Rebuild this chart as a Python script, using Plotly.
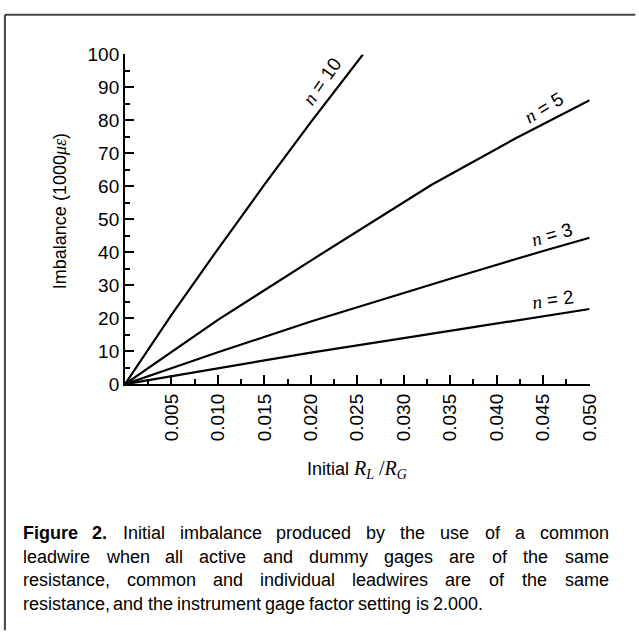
import plotly.graph_objects as go

# ---------------- data ----------------
ratio_n2 = [0, 0.010, 0.020, 0.030, 0.037, 0.045, 0.050]
imb_n2 = [0, 4.9, 9.6, 14.0, 17.0, 20.6, 22.8]

ratio_n3 = [0, 0.010, 0.020, 0.030, 0.035, 0.045, 0.050]
imb_n3 = [0, 9.7, 19.0, 27.8, 32.0, 40.4, 44.4]

ratio_n5 = [0, 0.010, 0.020, 0.033, 0.042, 0.050]
imb_n5 = [0, 19.5, 37.5, 60.5, 74.5, 86.1]

ratio_n10 = [0, 0.005, 0.010, 0.015, 0.020, 0.0256]
imb_n10 = [0, 21.0, 41.0, 60.5, 79.5, 100.0]

x_tick_vals = [0.005, 0.010, 0.015, 0.020, 0.025, 0.030, 0.035, 0.040, 0.045, 0.050]
x_tick_text = ["0.005", "0.010", "0.015", "0.020", "0.025", "0.030", "0.035", "0.040", "0.045", "0.050"]
y_tick_vals = [0, 10, 20, 30, 40, 50, 60, 70, 80, 90, 100]
y_tick_text = ["0", "10", "20", "30", "40", "50", "60", "70", "80", "90", "100"]

series_labels = ["2", "3", "5", "10"]

caption_lines = [
    "Figure 2. Initial imbalance produced by the use of a common",
    "leadwire when all active and dummy gages are of the same",
    "resistance, common and individual leadwires are of the same",
    "resistance, and the instrument gage factor setting is 2.000.",
]

# ---------------- layout helpers ----------------
W, H = 639, 635
PL, PR, PT, PB = 127, 599, 46, 387  # plot area in pixels

SANS = "Liberation Sans, Arial, Helvetica, sans-serif"
SERIF = "Liberation Serif, Times New Roman, Times, serif"


def fx(p):
    return p / W


def fy(p):
    return 1 - p / H


fig = go.Figure()
for xs, ys in [(ratio_n2, imb_n2), (ratio_n3, imb_n3), (ratio_n5, imb_n5), (ratio_n10, imb_n10)]:
    fig.add_trace(go.Scatter(x=xs, y=ys, mode="lines",
                             line=dict(color="black", width=2.2),
                             showlegend=False, hoverinfo="skip"))

tickfont = dict(family=SANS, size=19, color="black")
fig.update_layout(
    width=W, height=H,
    margin=dict(l=0, r=0, t=0, b=0),
    paper_bgcolor="white", plot_bgcolor="white",
    showlegend=False,
    xaxis=dict(domain=[fx(PL), fx(PR)], range=[0, 0.05],
               tickmode="array", tickvals=x_tick_vals, ticktext=x_tick_text,
               tickangle=-90, ticks="inside", ticklen=9, tickwidth=2, tickcolor="black",
               minor=dict(ticks="inside", ticklen=5, tickwidth=2, tickcolor="black",
                          tick0=0, dtick=0.0025, showgrid=False),
               showline=True, linewidth=2, linecolor="black",
               showgrid=False, zeroline=False, tickfont=tickfont, fixedrange=True),
    yaxis=dict(domain=[fy(PB), fy(PT)], range=[0, 100],
               tickmode="array", tickvals=y_tick_vals, ticktext=y_tick_text,
               ticks="inside", ticklen=9, tickwidth=2, tickcolor="black",
               minor=dict(ticks="inside", ticklen=5, tickwidth=2, tickcolor="black",
                          tick0=0, dtick=5, showgrid=False),
               showline=True, linewidth=2, linecolor="black",
               showgrid=False, zeroline=False, tickfont=tickfont, fixedrange=True),
)

annots = []

# series labels along lines
label_pos = [(562, 299, -8), (561, 232, -16), (553, 101, -31), (327, 74, -55)]
for lab, (lx, ly, ang) in zip(series_labels, label_pos):
    annots.append(dict(
        xref="paper", yref="paper", x=fx(lx), y=fy(ly), xanchor="center", yanchor="middle",
        text=f"<span style='font-family:{SERIF}'><i>n</i></span> = {lab}",
        textangle=ang, showarrow=False, font=dict(family=SANS, size=19, color="black")))

# axis titles
annots.append(dict(
    xref="paper", yref="paper", x=fx(61), y=fy(208), xanchor="center", yanchor="middle",
    text=f"Imbalance (1000<span style='font-family:{SERIF}'><i>με</i></span>)",
    textangle=-90, showarrow=False, font=dict(family=SANS, size=18, color="black")))
annots.append(dict(
    xref="paper", yref="paper", x=fx(363), y=fy(475), xanchor="center", yanchor="middle",
    text=(f"Initial <span style='font-family:{SERIF};font-size:20px'><i>R</i><sub><i>L</i></sub> /"
          f"<i>R</i><sub><i>G</i></sub></span>"),
    showarrow=False, font=dict(family=SANS, size=18, color="black")))

# caption, justified, word by word
REG = {' ': 278, ',': 278, '.': 278, 'a': 556, 'b': 556, 'c': 500, 'd': 556, 'e': 556, 'f': 278,
       'g': 556, 'h': 556, 'i': 222, 'j': 222, 'k': 500, 'l': 222, 'm': 833, 'n': 556, 'o': 556,
       'p': 556, 'q': 556, 'r': 333, 's': 500, 't': 278, 'u': 556, 'v': 500, 'w': 722, 'x': 500,
       'y': 500, 'z': 500, 'I': 278, 'F': 611}
for d in "0123456789":
    REG[d] = 556
BOLD = {'F': 611, 'i': 278, 'g': 611, 'u': 611, 'r': 389, 'e': 556, '2': 556, '.': 278, ' ': 278}

CAP_SIZE = 18
CAP_L, CAP_R = 22, 617
cap_y = [541, 565.5, 590, 614.5]


def wwidth(word, bold=False):
    tab = BOLD if bold else REG
    return sum(tab.get(c, 556) for c in word) * CAP_SIZE / 1000.0


for li, (line, yy) in enumerate(zip(caption_lines, cap_y)):
    words = line.split(" ")
    bolds = [li == 0 and i < 2 for i in range(len(words))]
    widths = [wwidth(w, b) for w, b in zip(words, bolds)]
    if li < len(caption_lines) - 1:
        gap = (CAP_R - CAP_L - sum(widths)) / (len(words) - 1)
    else:
        gap = 278 * CAP_SIZE / 1000.0
    xcur = CAP_L
    for w, b, wd in zip(words, bolds, widths):
        annots.append(dict(
            xref="paper", yref="paper", x=fx(xcur), y=fy(yy), xanchor="left", yanchor="middle",
            text=f"<b>{w}</b>" if b else w, showarrow=False, borderpad=0,
            font=dict(family=SANS, size=CAP_SIZE, color="black")))
        xcur += wd + gap

fig.update_layout(annotations=annots)

# outer frame (top and left edges visible)
fig.add_shape(type="line", xref="paper", yref="paper", x0=fx(5), x1=1.01, y0=fy(5), y1=fy(5),
              line=dict(color="#444444", width=2))
fig.add_shape(type="line", xref="paper", yref="paper", x0=fx(5), x1=fx(5), y0=fy(5), y1=-0.01,
              line=dict(color="#444444", width=2))

fig.write_html("out.html", config={"displayModeBar": False, "staticPlot": True},
               post_script="document.body.style.margin='0';")
